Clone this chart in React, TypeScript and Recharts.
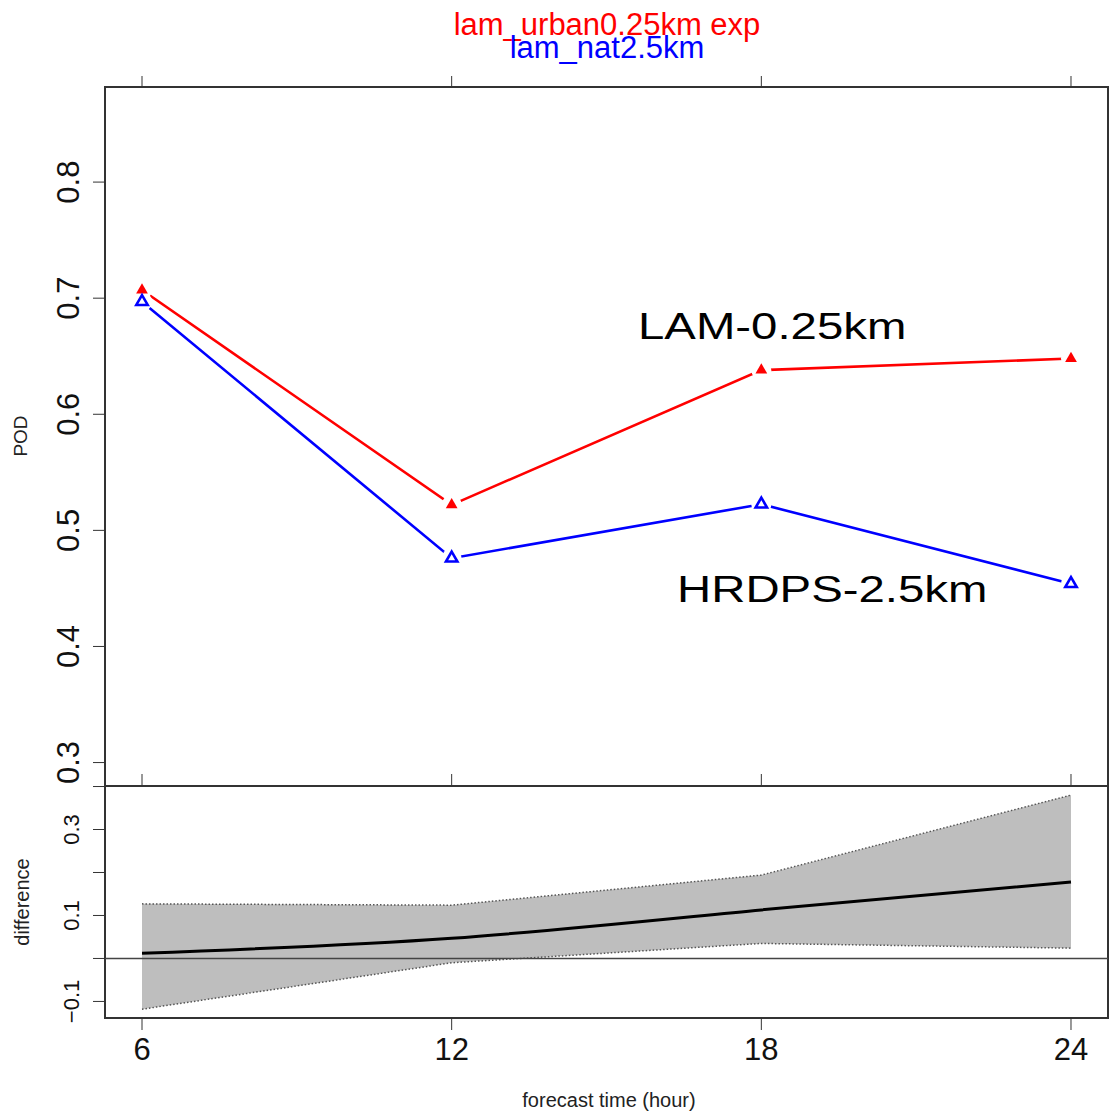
import React from 'react';
import {
  ComposedChart,
  Line,
  Area,
  XAxis,
  YAxis,
  ReferenceArea,
  ReferenceLine,
} from 'recharts';

// ---- data ----
const hours = [6, 12, 18, 24];
const urbanPOD = [0.707, 0.522, 0.638, 0.648]; // lam_urban0.25km exp
const natPOD = [0.697, 0.476, 0.5225, 0.454]; // lam_nat2.5km
const diffMean = [0.012, 0.047, 0.113, 0.178];
const diffLow = [-0.118, -0.01, 0.035, 0.024];
const diffHigh = [0.127, 0.124, 0.194, 0.38];
const podTicks = [0.3, 0.4, 0.5, 0.6, 0.7, 0.8];
const podTickLabels = ['0.3', '0.4', '0.5', '0.6', '0.7', '0.8'];
const diffTicks = [-0.1, 0, 0.1, 0.2, 0.3, 0.4];
const diffTickLabels = ['\u22120.1', '', '0.1', '', '0.3', ''];
const hourLabels = ['6', '12', '18', '24'];
const titleUrban = 'lam_urban0.25km exp';
const titleNat = 'lam_nat2.5km';
const annotUrban = 'LAM-0.25km';
const annotNat = 'HRDPS-2.5km';
const yLabelTop = 'POD';
const yLabelBottom = 'difference';
const xLabel = 'forecast time (hour)';

const xDomain: [number, number] = [5.283, 24.717];
const podDomain: [number, number] = [0.2798, 0.8819];
const diffDomain: [number, number] = [-0.1385, 0.4012];

const podData = hours.map((h, i) => ({ h, urban: urbanPOD[i], nat: natPOD[i] }));
const diffData = hours.map((h, i) => ({
  h,
  mean: diffMean[i],
  band: [diffLow[i], diffHigh[i]],
}));

const FONT = '"Liberation Sans", Arial, Helvetica, sans-serif';
const AXIS = '#333';
const RED = '#ff0000';
const BLUE = '#0000ff';

const EmptyTick = () => <g />;

const makeRotTick = (values: number[], labels: string[], size: number) => (props: any) => {
  const { x, y, payload } = props;
  const idx = values.findIndex((v) => Math.abs(v - payload.value) < 1e-9);
  const label = idx >= 0 ? labels[idx] : '';
  if (!label) return <g />;
  return (
    <text
      transform={`translate(${x},${y}) rotate(-90)`}
      textAnchor="middle"
      fontSize={size}
      fontFamily={FONT}
      fill="#111"
    >
      {label}
    </text>
  );
};

const PodTick = makeRotTick(podTicks, podTickLabels, 31);
const DiffTick = makeRotTick(diffTicks, diffTickLabels, 22);

const HourTick = (props: any) => {
  const { x, y, payload } = props;
  const idx = hours.indexOf(payload.value);
  return (
    <text x={x} y={y} dy="0.72em" textAnchor="middle" fontSize={31} fontFamily={FONT} fill="#111">
      {idx >= 0 ? hourLabels[idx] : ''}
    </text>
  );
};

const triPoints = (cx: number, cy: number, r: number) =>
  `${cx},${cy - r} ${cx + r * 0.866},${cy + r / 2} ${cx - r * 0.866},${cy + r / 2}`;

const haloDot = (p: any) =>
  p.cx == null ? <g key={`h${p.index}`} /> : <circle key={`h${p.index}`} cx={p.cx} cy={p.cy} r={10} fill="#fff" />;

const redDot = (p: any) =>
  p.cx == null ? <g key={`r${p.index}`} /> : (
    <polygon key={`r${p.index}`} points={triPoints(p.cx, p.cy, 6.8)} fill={RED} />
  );

const blueDot = (p: any) =>
  p.cx == null ? <g key={`b${p.index}`} /> : (
    <polygon
      key={`b${p.index}`}
      points={triPoints(p.cx, p.cy, 6.6)}
      fill="none"
      stroke={BLUE}
      strokeWidth={2.6}
      strokeLinejoin="miter"
    />
  );

export default function App() {
  return (
    <div style={{ position: 'absolute', left: 0, top: 0, width: 1115, height: 1117, background: '#fff' }}>
      {/* Top panel: POD */}
      <div style={{ position: 'absolute', left: 0, top: 0 }}>
        <ComposedChart
          width={1115}
          height={800}
          data={podData}
          margin={{ top: 57, right: 7, bottom: 14, left: 45 }}
        >
          <XAxis
            dataKey="h"
            type="number"
            orientation="top"
            domain={xDomain}
            allowDataOverflow
            ticks={hours}
            tickSize={11}
            tick={EmptyTick}
            height={30}
            stroke={AXIS}
            axisLine={false}
          />
          <YAxis
            type="number"
            domain={podDomain}
            allowDataOverflow
            ticks={podTicks}
            tickSize={12}
            tickMargin={14}
            width={60}
            tick={PodTick}
            stroke={AXIS}
            axisLine={false}
          />
          <ReferenceArea
            x1={xDomain[0]}
            x2={xDomain[1]}
            y1={podDomain[0]}
            y2={podDomain[1]}
            fill="none"
            stroke={AXIS}
            strokeWidth={2}
            ifOverflow="visible"
          />
          <Line dataKey="urban" type="linear" stroke={RED} strokeWidth={2.6} dot={false} activeDot={false} isAnimationActive={false} />
          <Line dataKey="nat" type="linear" stroke={BLUE} strokeWidth={2.6} dot={false} activeDot={false} isAnimationActive={false} />
          <Line dataKey="urban" stroke="none" dot={haloDot} activeDot={false} isAnimationActive={false} />
          <Line dataKey="nat" stroke="none" dot={haloDot} activeDot={false} isAnimationActive={false} />
          <Line dataKey="urban" stroke="none" dot={redDot} activeDot={false} isAnimationActive={false} />
          <Line dataKey="nat" stroke="none" dot={blueDot} activeDot={false} isAnimationActive={false} />
        </ComposedChart>
      </div>

      {/* Bottom panel: difference */}
      <div style={{ position: 'absolute', left: 0, top: 0 }}>
        <ComposedChart
          width={1115}
          height={1117}
          data={diffData}
          margin={{ top: 756, right: 7, bottom: 39, left: 45 }}
        >
          <XAxis
            xAxisId="top"
            dataKey="h"
            type="number"
            orientation="top"
            domain={xDomain}
            allowDataOverflow
            ticks={hours}
            tickSize={12}
            tick={EmptyTick}
            height={30}
            stroke={AXIS}
            axisLine={false}
          />
          <XAxis
            xAxisId="bot"
            dataKey="h"
            type="number"
            orientation="bottom"
            domain={xDomain}
            allowDataOverflow
            ticks={hours}
            tickSize={12}
            tickMargin={8}
            tick={HourTick}
            height={60}
            stroke={AXIS}
            axisLine={false}
          />
          <YAxis
            type="number"
            domain={diffDomain}
            allowDataOverflow
            ticks={diffTicks}
            tickSize={12}
            tickMargin={14}
            width={60}
            tick={DiffTick}
            stroke={AXIS}
            axisLine={false}
          />
          <Area
            xAxisId="bot"
            dataKey="band"
            type="linear"
            fill="#bebebe"
            fillOpacity={1}
            stroke="#555"
            strokeWidth={1.5}
            strokeDasharray="1.5 2"
            dot={false}
            activeDot={false}
            isAnimationActive={false}
          />
          <ReferenceLine xAxisId="bot" y={0} stroke="#444" strokeWidth={1.5} />
          <Line
            xAxisId="bot"
            dataKey="mean"
            type="natural"
            stroke="#000"
            strokeWidth={3}
            dot={false}
            activeDot={false}
            isAnimationActive={false}
          />
          <ReferenceArea
            xAxisId="bot"
            x1={xDomain[0]}
            x2={xDomain[1]}
            y1={diffDomain[0]}
            y2={diffDomain[1]}
            fill="none"
            stroke={AXIS}
            strokeWidth={2}
            ifOverflow="visible"
          />
        </ComposedChart>
      </div>

      {/* Titles, axis titles and annotations */}
      <svg
        width={1115}
        height={1117}
        style={{ position: 'absolute', left: 0, top: 0, pointerEvents: 'none' }}
        fontFamily={FONT}
      >
        <text x={607} y={35} textAnchor="middle" fontSize={31} fill={RED}>{titleUrban}</text>
        <text x={607} y={58} textAnchor="middle" fontSize={31} fill={BLUE}>{titleNat}</text>
        <text transform="translate(27,436) rotate(-90)" textAnchor="middle" fontSize={19} fill="#222">{yLabelTop}</text>
        <text transform="translate(29,902) rotate(-90)" textAnchor="middle" fontSize={20} fill="#222">{yLabelBottom}</text>
        <text x={609} y={1107} textAnchor="middle" fontSize={20} fill="#222">{xLabel}</text>
        <text transform="translate(638,339) scale(1.28,1)" fontSize={37} fill="#000">{annotUrban}</text>
        <text transform="translate(677,602) scale(1.28,1)" fontSize={37} fill="#000">{annotNat}</text>
      </svg>
    </div>
  );
}
